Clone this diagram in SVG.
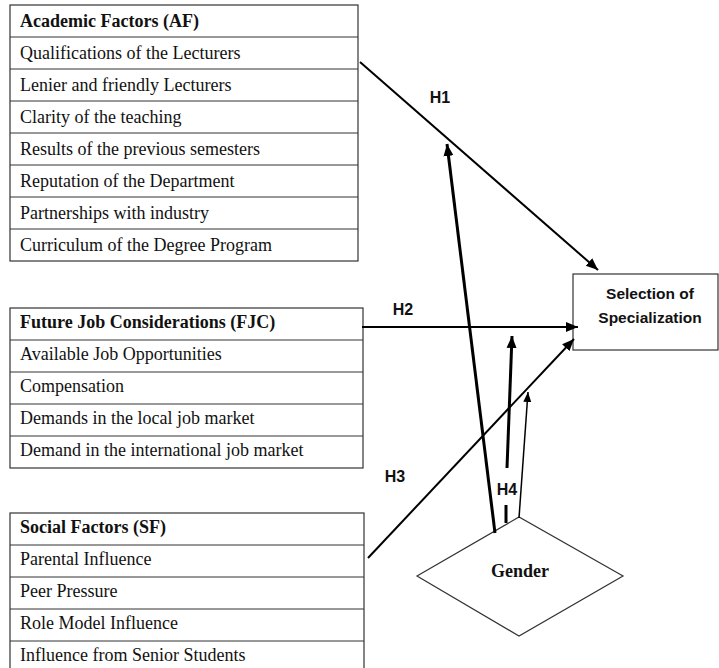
<svg xmlns="http://www.w3.org/2000/svg" width="719" height="668" viewBox="0 0 719 668">
<style>
.tb{fill:#fff;stroke:#333;stroke-width:1.2}
.rl{stroke:#333;stroke-width:1.2}
.t{font-family:"Liberation Serif","Times New Roman",serif;font-size:18px;fill:#111}
.th{font-family:"Liberation Serif","Times New Roman",serif;font-size:18px;font-weight:bold;fill:#111}
.s{font-family:"Liberation Sans",Arial,sans-serif;font-weight:bold;fill:#111}
.c{fill:none;stroke:#000}
</style>
<defs>
<marker id="ah" markerUnits="userSpaceOnUse" markerWidth="14" markerHeight="12" refX="12" refY="5" orient="auto" viewBox="0 0 14 10">
<path d="M0,0 L12,5 L0,10 Z" fill="#000"/>
</marker>
<marker id="ahs" markerUnits="userSpaceOnUse" markerWidth="12" markerHeight="10" refX="10" refY="4" orient="auto" viewBox="0 0 12 8">
<path d="M0,0 L10,4 L0,8 Z" fill="#000"/>
</marker>
</defs>
<g id="academic-factors">
<rect class="tb" x="10" y="5" width="348" height="256"/>
<line class="rl" x1="10" y1="37" x2="358" y2="37"/>
<line class="rl" x1="10" y1="69" x2="358" y2="69"/>
<line class="rl" x1="10" y1="101" x2="358" y2="101"/>
<line class="rl" x1="10" y1="133" x2="358" y2="133"/>
<line class="rl" x1="10" y1="165" x2="358" y2="165"/>
<line class="rl" x1="10" y1="197" x2="358" y2="197"/>
<line class="rl" x1="10" y1="229" x2="358" y2="229"/>
<text class="th" x="20" y="27">Academic Factors (AF)</text>
<text class="t" x="20" y="59">Qualifications of the Lecturers</text>
<text class="t" x="20" y="91">Lenier and friendly Lecturers</text>
<text class="t" x="20" y="123">Clarity of the teaching</text>
<text class="t" x="20" y="155">Results of the previous semesters</text>
<text class="t" x="20" y="187">Reputation of the Department</text>
<text class="t" x="20" y="219">Partnerships with industry</text>
<text class="t" x="20" y="251">Curriculum of the Degree Program</text>
</g>
<g id="future-job">
<rect class="tb" x="10" y="308" width="353" height="160"/>
<line class="rl" x1="10" y1="340" x2="363" y2="340"/>
<line class="rl" x1="10" y1="372" x2="363" y2="372"/>
<line class="rl" x1="10" y1="404" x2="363" y2="404"/>
<line class="rl" x1="10" y1="436" x2="363" y2="436"/>
<text class="th" x="20" y="328">Future Job Considerations (FJC)</text>
<text class="t" x="20" y="360">Available Job Opportunities</text>
<text class="t" x="20" y="392">Compensation</text>
<text class="t" x="20" y="424">Demands in the local job market</text>
<text class="t" x="20" y="456">Demand in the international job market</text>
</g>
<g id="social-factors">
<rect class="tb" x="10" y="513" width="354" height="160"/>
<line class="rl" x1="10" y1="545" x2="364" y2="545"/>
<line class="rl" x1="10" y1="577" x2="364" y2="577"/>
<line class="rl" x1="10" y1="609" x2="364" y2="609"/>
<line class="rl" x1="10" y1="641" x2="364" y2="641"/>
<text class="th" x="20" y="533">Social Factors (SF)</text>
<text class="t" x="20" y="565">Parental Influence</text>
<text class="t" x="20" y="597">Peer Pressure</text>
<text class="t" x="20" y="629">Role Model Influence</text>
<text class="t" x="20" y="661">Influence from Senior Students</text>
</g>
<g id="selection">
<rect class="tb" x="573" y="274" width="145" height="76"/>
<text class="s" x="650" y="299" font-size="15.5" text-anchor="middle">Selection of</text>
<text class="s" x="650" y="323" font-size="15.5" text-anchor="middle">Specialization</text>
</g>
<g id="gender">
<polygon points="417,576 519,517 623,576 519,636" fill="#fff" stroke="#333" stroke-width="1.2"/>
<text class="th" x="520" y="577" font-size="18.5" text-anchor="middle">Gender</text>
</g>
<g id="connectors">
<line class="c" x1="360" y1="62" x2="598" y2="270" stroke-width="2" marker-end="url(#ah)"/>
<line class="c" x1="362" y1="327" x2="578" y2="327" stroke-width="2" marker-end="url(#ah)"/>
<line class="c" x1="368" y1="558" x2="574" y2="339" stroke-width="2" marker-end="url(#ah)"/>
<line class="c" x1="495" y1="533" x2="447" y2="144" stroke-width="3" marker-end="url(#ah)"/>
<line class="c" x1="506" y1="523" x2="506" y2="505" stroke-width="3"/>
<line class="c" x1="507" y1="468" x2="512" y2="336" stroke-width="3" marker-end="url(#ah)"/>
<line class="c" x1="519" y1="518" x2="528" y2="392" stroke-width="1.5" marker-end="url(#ahs)"/>
</g>
<g id="labels">
<text class="s" x="440" y="103" font-size="16" text-anchor="middle">H1</text>
<text class="s" x="403" y="315" font-size="16" text-anchor="middle">H2</text>
<text class="s" x="395" y="482" font-size="16" text-anchor="middle">H3</text>
<text class="s" x="507" y="495" font-size="16" text-anchor="middle">H4</text>
</g>
</svg>
